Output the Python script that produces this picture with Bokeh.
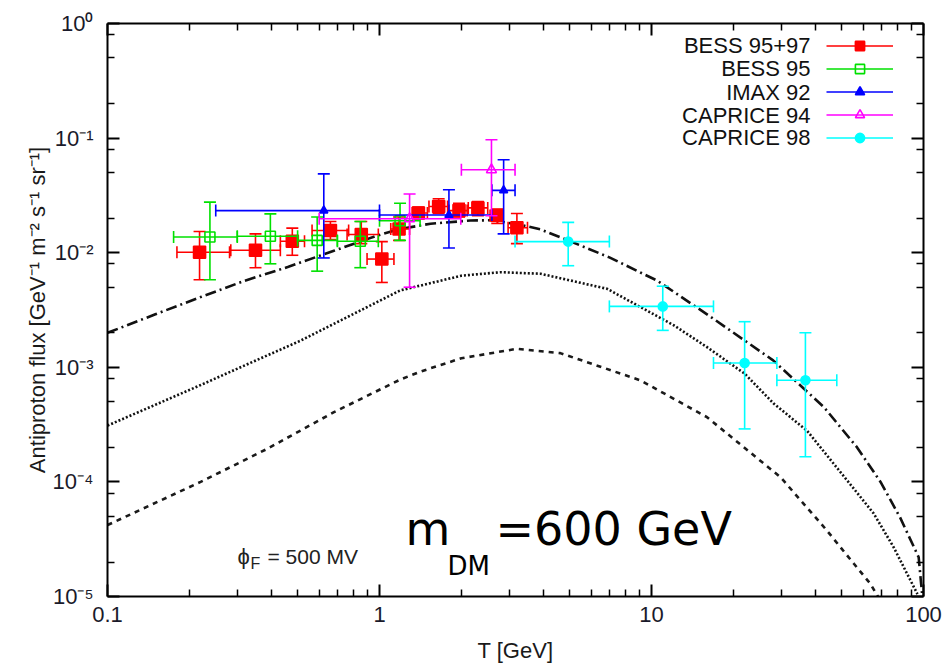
import math
from bokeh.plotting import figure
from bokeh.models import (LogAxis, FixedTicker, Label, Legend, LegendItem,
                          ColumnDataSource)
from bokeh.embed import file_html
from bokeh.resources import INLINE

# ---------------- data ----------------
# model curves (T in GeV, flux)
total_T = [0.1, 0.15, 0.22, 0.32, 0.46, 0.68, 0.98, 1.19, 1.54, 2.16, 2.6, 3.3,
           3.9, 4.94, 7.0, 10.5, 16, 28, 43, 57, 69.5, 82, 96, 99]
total_F = [0.0020, 0.0029, 0.0041, 0.0057, 0.0075, 0.0104, 0.0141, 0.0161, 0.0179,
           0.0191, 0.0192, 0.0175, 0.0160, 0.0128, 0.0091, 0.0057, 0.0029, 0.00115,
           0.00045, 0.0002, 0.0001, 4.9e-5, 2.2e-5, 1.0e-5]

bkg_T = [0.1, 0.22, 0.32, 0.513, 1.19, 2.0, 2.79, 3.91, 6.87, 12.1, 16, 22, 28.2,
         37.3, 52.4, 65.6, 77.6, 95]
bkg_F = [3.1e-4, 7.0e-4, 1.04e-3, 1.71e-3, 4.68e-3, 6.3e-3, 6.76e-3, 6.55e-3, 4.84e-3,
         2.32e-3, 1.5e-3, 8.8e-4, 4.8e-4, 2.8e-4, 1.03e-4, 5.3e-5, 2.7e-5, 1.05e-5]

sig_T = [0.1, 0.22, 0.386, 0.68, 1.19, 1.42, 2.0, 3.2, 4.62, 9.1, 16, 29.8, 44, 55.5,
         63.8, 68]
sig_F = [4.2e-5, 1.0e-4, 1.94e-4, 4.06e-4, 7.8e-4, 9.2e-4, 1.2e-3, 1.45e-3, 1.33e-3,
         7.7e-4, 3.67e-4, 1.1e-4, 3.8e-5, 1.93e-5, 1.29e-5, 1.0e-5]

# BESS 95+97
bess9597_T = [0.218, 0.350, 0.478, 0.660, 0.857, 1.02, 1.18, 1.39, 1.65, 1.96, 2.30, 2.71, 3.20]
bess9597_F = [0.0101, 0.0105, 0.0126, 0.0156, 0.0144, 0.0088, 0.0161, 0.0222, 0.0253,
              0.0233, 0.0246, 0.0211, 0.0165]
bess9597_Tlo = [0.180, 0.284, 0.432, 0.565, 0.76, 0.90, 1.10, 1.32, 1.52, 1.80, 2.12, 2.55, 2.97]
bess9597_Thi = [0.281, 0.432, 0.530, 0.770, 0.99, 1.13, 1.29, 1.50, 1.78, 2.10, 2.50, 2.80, 3.50]
bess9597_Flo = [0.0058, 0.0074, 0.0095, 0.0130, 0.0120, 0.0055, 0.0128, 0.0198, 0.0220,
                0.0205, 0.0210, 0.0180, 0.0120]
bess9597_Fhi = [0.0153, 0.0146, 0.0164, 0.0187, 0.0187, 0.0125, 0.0205, 0.0250, 0.0296,
                0.0270, 0.0280, 0.0240, 0.0220]

# BESS 95
bess95_T = [0.238, 0.397, 0.590, 0.85, 1.19]
bess95_F = [0.0137, 0.0139, 0.0128, 0.0126, 0.0190]
bess95_Tlo = [0.175, 0.30, 0.50, 0.70, 1.0]
bess95_Thi = [0.30, 0.50, 0.70, 0.99, 1.41]
bess95_Flo = [0.0058, 0.0080, 0.0069, 0.0074, 0.0128]
bess95_Fhi = [0.0276, 0.0218, 0.0205, 0.0187, 0.0270]

# IMAX 92
imax_T = [0.624, 1.80, 2.86]
imax_F = [0.0233, 0.0213, 0.0350]
imax_Tlo = [0.25, 1.0, 2.59]
imax_Thi = [1.0, 2.59, 3.15]
imax_Flo = [0.0090, 0.0110, 0.0146]
imax_Fhi = [0.0487, 0.0354, 0.0647]

# CAPRICE 94
cap94_T = [1.29, 2.58]
cap94_F = [0.0198, 0.0529]
cap94_Tlo = [0.60, 2.0]
cap94_Thi = [1.99, 3.15]
cap94_Flo = [0.0050, 0.021]
cap94_Fhi = [0.0325, 0.0966]

# CAPRICE 98
cap98_T = [4.94, 11.0, 22.0, 36.8]
cap98_F = [0.0125, 0.0034, 0.00109, 0.00077]
cap98_Tlo = [3.15, 7.0, 16.9, 28.9]
cap98_Thi = [7.0, 16.9, 28.9, 48.0]
cap98_Flo = [0.0077, 0.0021, 0.00029, 0.000166]
cap98_Fhi = [0.0184, 0.0051, 0.0025, 0.0020]

x_tick_vals = [0.1, 1, 10, 100]
x_tick_labels = ["0.1", "1", "10", "100"]
y_tick_vals = [1e-5, 1e-4, 1e-3, 1e-2, 1e-1, 1.0]
y_tick_labels = ["10\u207b\u2075", "10\u207b\u2074", "10\u207b\u00b3", "10\u207b\u00b2",
                 "10\u207b\u00b9", "10\u2070"]
series_names = ["BESS 95+97", "BESS 95", "IMAX 92", "CAPRICE 94", "CAPRICE 98"]

# ---------------- figure ----------------
FONT = "Liberation Sans"
L, R, T_, B = 107, 23, 23, 72
W, H = 946, 668
p = figure(width=W, height=H, x_axis_type="log", y_axis_type="log",
           x_range=(0.1, 100), y_range=(1e-5, 1.0),
           output_backend="svg", toolbar_location=None,
           min_border_left=L, min_border_right=R, min_border_top=T_, min_border_bottom=B)
p.grid.visible = False
p.outline_line_color = None
p.background_fill_color = "white"

x_minor = [m * 10.0 ** e for e in (-1, 0, 1) for m in range(2, 10)]
y_minor = [m * 10.0 ** e for e in (-5, -4, -3, -2, -1) for m in (2, 5, 8)]


def style_axis(ax, ticks, minor, labels, show):
    ax.ticker = FixedTicker(ticks=ticks, minor_ticks=minor)
    ax.axis_line_width = 2
    ax.axis_line_color = "black"
    ax.major_tick_in = 12
    ax.major_tick_out = 0
    ax.minor_tick_in = 7
    ax.minor_tick_out = 0
    ax.major_tick_line_width = 2
    ax.minor_tick_line_width = 1.5
    ax.major_tick_line_color = "black"
    ax.minor_tick_line_color = "black"
    if show:
        ax.major_label_overrides = {t: s for t, s in zip(ticks, labels)}
        ax.major_label_text_font = FONT
        ax.major_label_text_font_size = "22px"
        ax.major_label_text_color = "#1a1a2a"
    else:
        ax.major_label_overrides = {t: "" for t in ticks}
        ax.major_label_text_font_size = "1px"


xa = p.xaxis[0]
ya = p.yaxis[0]
style_axis(xa, x_tick_vals, x_minor, x_tick_labels, True)
style_axis(ya, y_tick_vals, y_minor, y_tick_labels, True)
xa.major_label_standoff = 10
ya.major_label_standoff = 14
xa.axis_label = "T [GeV]"
ya.axis_label = "Antiproton flux [GeV\u207b\u00b9 m\u207b\u00b2 s\u207b\u00b9 sr\u207b\u00b9]"
for ax in (xa, ya):
    ax.axis_label_text_font = FONT
    ax.axis_label_text_font_size = "22px"
    ax.axis_label_text_font_style = "normal"
    ax.axis_label_text_color = "#1a1a1a"
xa.axis_label_standoff = 13
ya.axis_label_standoff = 0

top = LogAxis()
right = LogAxis()
style_axis(top, x_tick_vals, x_minor, x_tick_labels, False)
style_axis(right, y_tick_vals, y_minor, y_tick_labels, False)
p.add_layout(top, "above")
p.add_layout(right, "right")

# ---------------- model curves ----------------
p.line(total_T, total_F, line_color="#111111", line_width=2.6, line_dash="11 4 2 4")
p.line(bkg_T, bkg_F, line_color="#111111", line_width=2.6, line_dash="2 2")
p.line(sig_T, sig_F, line_color="#1a1a1a", line_width=2.6, line_dash="5 5")

# ---------------- data sets ----------------
CAP = 12


def dataset(Tv, Fv, Tlo, Thi, Flo, Fhi, color, marker, size, filled):
    src = ColumnDataSource(dict(x=Tv, y=Fv, xlo=Tlo, xhi=Thi, ylo=Flo, yhi=Fhi))
    h = p.segment(x0="xlo", y0="y", x1="xhi", y1="y", source=src, line_color=color, line_width=1.6)
    p.segment(x0="x", y0="ylo", x1="x", y1="yhi", source=src, line_color=color, line_width=1.6)
    p.scatter(x="x", y="ylo", source=src, marker="dash", size=CAP, line_color=color, line_width=1.6)
    p.scatter(x="x", y="yhi", source=src, marker="dash", size=CAP, line_color=color, line_width=1.6)
    p.scatter(x="xlo", y="y", source=src, marker="dash", angle=math.pi / 2, size=CAP,
              line_color=color, line_width=1.6)
    p.scatter(x="xhi", y="y", source=src, marker="dash", angle=math.pi / 2, size=CAP,
              line_color=color, line_width=1.6)
    m = p.scatter(x="x", y="y", source=src, marker=marker, size=size, line_color=color,
                  line_width=1.6, fill_color=color if filled else "white",
                  fill_alpha=1.0 if filled else 0.0)
    return h, m


r1 = dataset(bess9597_T, bess9597_F, bess9597_Tlo, bess9597_Thi, bess9597_Flo, bess9597_Fhi,
             "#ff0000", "square", 12, True)
r2 = dataset(bess95_T, bess95_F, bess95_Tlo, bess95_Thi, bess95_Flo, bess95_Fhi,
             "#00e000", "square", 10, False)
r3 = dataset(imax_T, imax_F, imax_Tlo, imax_Thi, imax_Flo, imax_Fhi,
             "#0000ff", "triangle", 8, True)
r4 = dataset(cap94_T, cap94_F, cap94_Tlo, cap94_Thi, cap94_Flo, cap94_Fhi,
             "#ff00ff", "triangle", 10, False)
r5 = dataset(cap98_T, cap98_F, cap98_Tlo, cap98_Thi, cap98_Flo, cap98_Fhi,
             "#00ffff", "circle", 9, True)

# ---------------- legend: samples via Legend, texts as labels on their left ----------------
items = [LegendItem(label=" ", renderers=[h, m]) for (h, m) in (r1, r2, r3, r4, r5)]
legend = Legend(items=items, location=(719, 447), glyph_width=67, glyph_height=23,
                label_width=0, label_height=23, label_standoff=0, spacing=0, padding=0,
                margin=0, border_line_alpha=0, background_fill_alpha=0,
                label_text_font_size="1px")
p.add_layout(legend)

row_y = [551, 528, 504, 481, 459]
for name, yy in zip(series_names, row_y):
    p.add_layout(Label(x=703, y=yy, x_units="screen", y_units="screen", text=name,
                       text_align="right", text_baseline="middle", text_font=FONT,
                       text_font_size="22px", text_color="#111111"))

# phi_F annotation
p.add_layout(Label(x=130, y=40, x_units="screen", y_units="screen", text="\u03d5",
                   text_font=FONT, text_font_size="22px", text_color="#222222",
                   text_baseline="alphabetic"))
p.add_layout(Label(x=143, y=33, x_units="screen", y_units="screen", text="F",
                   text_font=FONT, text_font_size="16px", text_color="#222222",
                   text_baseline="alphabetic"))
p.add_layout(Label(x=160, y=40, x_units="screen", y_units="screen", text="= 500 MV",
                   text_font=FONT, text_font_size="21px", text_color="#222222",
                   text_baseline="alphabetic"))

# m_DM annotation
BIG = "DejaVu Sans"
p.add_layout(Label(x=298, y=68, x_units="screen", y_units="screen", text="m",
                   text_font=BIG, text_font_size="46px", text_color="black",
                   text_baseline="alphabetic"))
p.add_layout(Label(x=340, y=31, x_units="screen", y_units="screen", text="DM",
                   text_font=BIG, text_font_size="26px", text_color="black",
                   text_baseline="alphabetic"))
p.add_layout(Label(x=388, y=68, x_units="screen", y_units="screen", text="=600 GeV",
                   text_font=BIG, text_font_size="46px", text_color="black",
                   text_baseline="alphabetic"))

open("out.html", "w").write(file_html(p, INLINE))
